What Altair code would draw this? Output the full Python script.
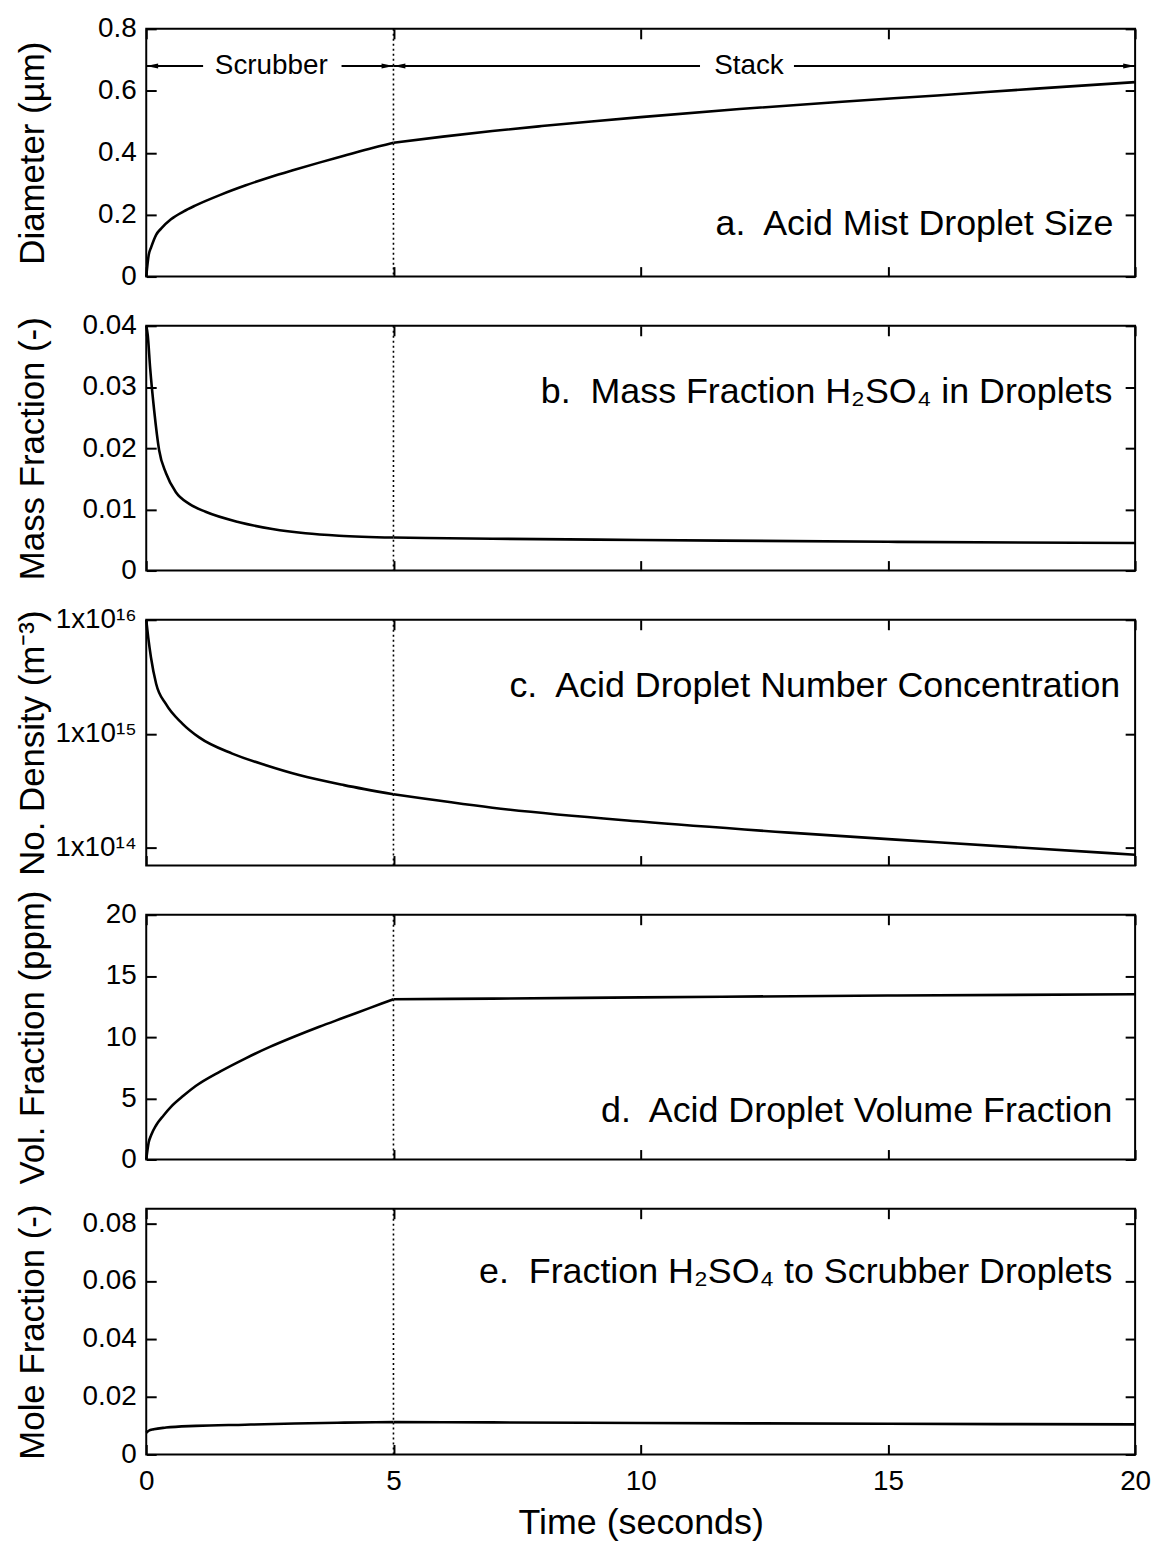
import altair as alt
import pandas as pd

FONT = "Liberation Sans"
TICK = 10
W = 994

# ---------------- data ----------------
time_a = [0, 0.05, 0.1, 0.2, 0.3, 0.5, 0.75, 1, 1.5, 2, 2.5, 3, 3.5, 4, 4.5, 5,
          6, 7, 8, 9, 10, 12, 14, 16, 18, 20]
diameter = [0, 0.07, 0.095, 0.135, 0.155, 0.185, 0.21, 0.23, 0.264, 0.294, 0.321,
            0.345, 0.368, 0.39, 0.412, 0.432, 0.452, 0.47, 0.486, 0.501, 0.515,
            0.541, 0.564, 0.585, 0.607, 0.628]

time_b = [0, 0.03, 0.08, 0.16, 0.26, 0.4, 0.6, 0.87, 1.2, 1.88, 2.55, 3.22, 3.9,
          5, 7, 10, 15, 20]
mass_frac = [0.0400, 0.0385, 0.0330, 0.0262, 0.0197, 0.0159, 0.0128, 0.0109, 0.0096,
             0.0079, 0.0068, 0.0061, 0.0057, 0.0054, 0.0052, 0.0050, 0.0047, 0.0045]

time_c = [0, 0.04, 0.095, 0.2, 0.4, 0.73, 1.07, 1.74, 2.42, 3.09, 4, 5, 7, 10, 13, 16, 20]
number_density = [1.0e16, 7.0e15, 4.7e15, 2.75e15, 1.82e15, 1.23e15, 9.3e14, 6.7e14,
                  5.3e14, 4.35e14, 3.55e14, 2.95e14, 2.25e14, 1.7e14, 1.36e14,
                  1.12e14, 8.7e13]

time_d = [0, 0.05, 0.1, 0.2, 0.35, 0.5, 0.75, 1, 1.5, 2, 2.5, 3, 3.5, 4, 4.5, 5,
          7, 10, 15, 20]
vol_frac = [0, 1.4, 2.0, 2.8, 3.6, 4.3, 5.2, 6.0, 7.2, 8.25, 9.2, 10.05, 10.85, 11.6,
            12.35, 13.1, 13.15, 13.25, 13.4, 13.5]

time_e = [0, 0.05, 0.15, 0.4, 1, 2, 3, 4, 5, 7, 10, 15, 20]
mole_frac = [0.0075, 0.0082, 0.0087, 0.0093, 0.0099, 0.0103, 0.0107, 0.0110, 0.0112,
             0.0111, 0.0109, 0.0106, 0.0104]

x_ticks = [0, 5, 10, 15, 20]
boundary_time = 5

SP = "\u00a0 "
notes = ["a." + SP + "Acid Mist Droplet Size",
         "b." + SP + "Mass Fraction H\u2082SO\u2084 in Droplets",
         "c." + SP + "Acid Droplet Number Concentration",
         "d." + SP + "Acid Droplet Volume Fraction",
         "e." + SP + "Fraction H\u2082SO\u2084 to Scrubber Droplets"]
note_t = [19.56, 19.54, 19.70, 19.54, 19.54]
note_v = [0.17, 0.0292, 2.63e15, 3.98, 0.0631]

# zone annotation (panel a)
zone_labels = ["Scrubber", "Stack"]
zone_label_t = [2.53, 12.19]
zone_level = 0.68
zone_seg_start = [0, 3.95, 5, 13.1]
zone_seg_end = [1.15, 5, 11.2, 20]
arrow_left_t = [0.12, 5.12]
arrow_right_t = [4.88, 19.88]

xscale = alt.Scale(domain=[0, 20], nice=False, zero=False)


def split_zones(t, v):
    """Scrubber part (t <= 5) and stack part (t >= 5) as separate line pieces."""
    rows = []
    for ti, vi in zip(t, v):
        if ti <= boundary_time:
            rows.append({"t": ti, "v": vi, "zone": "scrubber"})
        if ti >= boundary_time:
            rows.append({"t": ti, "v": vi, "zone": "stack"})
    return pd.DataFrame(rows)


def make_panel(t, v, dom, yticks, ytitle, label_expr, note, nt, nv, height,
               stype="linear", show_x=False, extra=None):
    df = split_zones(t, v)
    yscale = alt.Scale(domain=dom, nice=False, zero=False, type=stype)

    if show_x:
        x_bottom = alt.Axis(orient="bottom", offset=-TICK, tickSize=TICK, domain=False,
                            values=x_ticks, labelPadding=13, labelFlush=False,
                            title="Time (seconds)", titleFontSize=36, titlePadding=10,
                            format="d")
    else:
        x_bottom = alt.Axis(orient="bottom", offset=-TICK, tickSize=TICK, domain=False,
                            values=x_ticks, labels=False, title=None)
    x_top = alt.Axis(orient="top", offset=-TICK, tickSize=TICK, domain=False,
                     values=x_ticks, labels=False, title=None)
    y_left = alt.Axis(orient="left", offset=-TICK, tickSize=TICK, domain=False,
                      values=yticks, labelPadding=10, labelExpr=label_expr,
                      labelFlush=False,
                      title=ytitle, titleX=-124, titleBaseline="middle")
    y_right = alt.Axis(orient="right", offset=-TICK, tickSize=TICK, domain=False,
                       values=yticks, labels=False, title=None)

    line = alt.Chart(df).mark_line(color="black", strokeWidth=2.6,
                                   interpolate="monotone").encode(
        x=alt.X("t:Q", scale=xscale, axis=x_bottom),
        y=alt.Y("v:Q", scale=yscale, axis=y_left),
        detail="zone:N",
    )
    ghost = alt.Chart(df).mark_line(opacity=0).encode(
        x=alt.X("t:Q", scale=xscale, axis=x_top),
        y=alt.Y("v:Q", scale=yscale, axis=y_right),
        detail="zone:N",
    )
    rule = alt.Chart(pd.DataFrame({"t": [boundary_time]})).mark_rule(
        color="black", strokeWidth=1.6, strokeDash=[2, 3]
    ).encode(x=alt.X("t:Q", scale=xscale, axis=None))
    text = alt.Chart(pd.DataFrame({"t": [nt], "v": [nv], "label": [note]})).mark_text(
        align="right", baseline="middle", fontSize=36, font=FONT, color="black"
    ).encode(
        x=alt.X("t:Q", scale=xscale, axis=None),
        y=alt.Y("v:Q", scale=yscale, axis=None),
        text="label:N",
    )
    layers = [line, ghost, rule, text]
    if extra:
        layers += [e(yscale) for e in extra]
    return alt.layer(*layers).resolve_axis(x="independent", y="independent").properties(
        width=W, height=height)


def zone_segments(yscale):
    d = pd.DataFrame({"a": zone_seg_start, "b": zone_seg_end,
                      "y": [zone_level] * len(zone_seg_start)})
    return alt.Chart(d).mark_rule(color="black", strokeWidth=2).encode(
        x=alt.X("a:Q", scale=xscale, axis=None), x2="b:Q",
        y=alt.Y("y:Q", scale=yscale, axis=None))


def zone_text(yscale):
    d = pd.DataFrame({"t": zone_label_t, "y": [zone_level] * 2, "label": zone_labels})
    return alt.Chart(d).mark_text(fontSize=28, font=FONT, color="black",
                                  baseline="middle", align="center").encode(
        x=alt.X("t:Q", scale=xscale, axis=None),
        y=alt.Y("y:Q", scale=yscale, axis=None), text="label:N")


def arrows_left(yscale):
    d = pd.DataFrame({"t": arrow_left_t, "y": [zone_level] * 2})
    return alt.Chart(d).mark_point(shape="M1,-0.42L-1,0L1,0.42Z", filled=True,
                                   size=144, color="black", opacity=1).encode(
        x=alt.X("t:Q", scale=xscale, axis=None),
        y=alt.Y("y:Q", scale=yscale, axis=None))


def arrows_right(yscale):
    d = pd.DataFrame({"t": arrow_right_t, "y": [zone_level] * 2})
    return alt.Chart(d).mark_point(shape="M-1,-0.42L1,0L-1,0.42Z", filled=True,
                                   size=144, color="black", opacity=1).encode(
        x=alt.X("t:Q", scale=xscale, axis=None),
        y=alt.Y("y:Q", scale=yscale, axis=None))


pa = make_panel(time_a, diameter, [0, 0.8], [0, 0.2, 0.4, 0.6, 0.8], "Diameter (\u00b5m)",
                "datum.value == 0 ? '0' : format(datum.value, '.1f')",
                notes[0], note_t[0], note_v[0], 249,
                extra=[zone_segments, zone_text, arrows_left, arrows_right])
pb = make_panel(time_b, mass_frac, [0, 0.04], [0, 0.01, 0.02, 0.03, 0.04],
                "Mass Fraction (-)",
                "datum.value == 0 ? '0' : format(datum.value, '.2f')",
                notes[1], note_t[1], note_v[1], 246)
pc = make_panel(time_c, number_density, [7e13, 1e16], [1e14, 1e15, 1e16],
                "No. Density (m\u207b\u00b3)",
                "datum.value >= 9e15 ? '1x10\u00b9\u2076' : (datum.value >= 9e14 ? '1x10\u00b9\u2075' : '1x10\u00b9\u2074')",
                notes[2], note_t[2], note_v[2], 247, stype="log")
pd_ = make_panel(time_d, vol_frac, [0, 20], [0, 5, 10, 15, 20], "Vol. Fraction (ppm)",
                 "format(datum.value, 'd')",
                 notes[3], note_t[3], note_v[3], 246)
pe = make_panel(time_e, mole_frac, [0, 0.085], [0, 0.02, 0.04, 0.06, 0.08],
                "Mole Fraction (-)",
                "datum.value == 0 ? '0' : format(datum.value, '.2f')",
                notes[4], note_t[4], note_v[4], 247, show_x=True)

chart = alt.vconcat(pa, pb, pc, pd_, pe, spacing=49.5, bounds="flush").properties(
    padding={"left": 15, "top": 10, "right": 5, "bottom": 0},
    background="white",
).configure_view(stroke="black", strokeWidth=2).configure_axis(
    labelFont=FONT, titleFont=FONT, labelFontSize=28, titleFontSize=35,
    labelColor="black", titleColor="black", tickColor="black", tickWidth=2,
    grid=False, titleFontWeight="normal",
)

chart.save("out.html", embed_options={"renderer": "svg", "actions": False})
